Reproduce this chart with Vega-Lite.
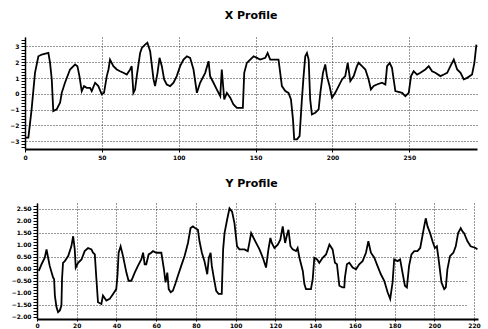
{
  "$schema": "https://vega.github.io/schema/vega-lite/v6.json",
  "background": "white",
  "padding": {"left": 0, "top": 10, "right": 8, "bottom": 0},
  "spacing": 17,
  "config": {
    "view": {"stroke": null},
    "title": {"font": "DejaVu Sans", "fontWeight": "bold", "fontSize": 11, "color": "black", "anchor": "middle", "offset": 16},
    "axis": {"labelFont": "DejaVu Sans", "labelFontSize": 6, "labelFontWeight": "bold", "labelColor": "black", "domainColor": "black", "tickColor": "black", "title": null, "labelPadding": 2, "labelOverlap": false, "labelBound": false}
  },
  "datasets": {
    "xp": [
      {"d":0,"v":-2.78},{"d":2.2,"v":-2.78},{"d":4.3,"v":-0.99},{"d":6.5,"v":1.33},{"d":8.7,"v":2.38},{"d":10.9,"v":2.49},{"d":15.2,"v":2.59},{"d":16.3,"v":1.96},{"d":17.4,"v":0.91},{"d":18.4,"v":-1.1},{"d":20.6,"v":-0.99},{"d":22.8,"v":-0.57},{"d":23.9,"v":0.06},{"d":26.0,"v":0.7},{"d":29.3,"v":1.54},{"d":32.6,"v":1.86},{"d":34.1,"v":1.75},{"d":35.4,"v":1.12},{"d":36.9,"v":0.17},{"d":38.4,"v":0.49},{"d":40.1,"v":0.38},{"d":42.3,"v":0.38},{"d":43.4,"v":0.17},{"d":45.6,"v":0.7},{"d":47.7,"v":0.49},{"d":49.9,"v":-0.04},{"d":51.4,"v":0.06},{"d":53.2,"v":1.12},{"d":54.3,"v":1.54},{"d":55.3,"v":2.17},{"d":57.5,"v":1.75},{"d":59.7,"v":1.54},{"d":61.8,"v":1.43},{"d":64.0,"v":1.33},{"d":66.2,"v":1.22},{"d":68.4,"v":1.54},{"d":69.4,"v":1.75},{"d":70.5,"v":0.06},{"d":71.6,"v":0.27},{"d":72.7,"v":1.12},{"d":74.9,"v":2.59},{"d":76.0,"v":2.91},{"d":78.1,"v":3.12},{"d":79.6,"v":3.23},{"d":81.4,"v":2.7},{"d":83.6,"v":0.91},{"d":84.6,"v":0.49},{"d":86.2,"v":1.33},{"d":87.5,"v":2.28},{"d":89.0,"v":1.75},{"d":90.5,"v":0.91},{"d":92.2,"v":0.59},{"d":94.4,"v":0.49},{"d":96.6,"v":0.7},{"d":98.7,"v":1.12},{"d":100.9,"v":1.75},{"d":103.1,"v":2.17},{"d":105.3,"v":2.38},{"d":107.4,"v":2.28},{"d":109.6,"v":1.54},{"d":111.8,"v":0.06},{"d":113.9,"v":0.7},{"d":117.2,"v":1.33},{"d":119.4,"v":2.07},{"d":120.4,"v":1.12},{"d":122.6,"v":0.7},{"d":124.8,"v":0.27},{"d":127.0,"v":-0.15},{"d":128.0,"v":1.54},{"d":129.6,"v":-0.36},{"d":131.3,"v":0.06},{"d":133.5,"v":-0.25},{"d":135.6,"v":-0.68},{"d":137.8,"v":-0.89},{"d":141.7,"v":-0.89},{"d":142.6,"v":1.33},{"d":144.3,"v":1.96},{"d":146.5,"v":2.17},{"d":148.7,"v":2.38},{"d":150.8,"v":2.28},{"d":153.0,"v":2.17},{"d":156.3,"v":2.28},{"d":157.8,"v":2.59},{"d":159.5,"v":2.17},{"d":164.9,"v":2.17},{"d":167.1,"v":0.49},{"d":169.3,"v":0.17},{"d":171.4,"v":0.06},{"d":173.0,"v":-0.36},{"d":174.3,"v":-1.62},{"d":175.1,"v":-2.89},{"d":176.9,"v":-2.89},{"d":178.6,"v":-2.68},{"d":180.1,"v":-0.36},{"d":181.2,"v":1.12},{"d":182.3,"v":2.38},{"d":183.4,"v":2.59},{"d":184.5,"v":2.17},{"d":185.5,"v":-0.36},{"d":186.6,"v":-1.31},{"d":188.8,"v":-1.2},{"d":191.0,"v":-0.99},{"d":192.1,"v":0.06},{"d":193.8,"v":1.33},{"d":195.3,"v":1.86},{"d":196.4,"v":1.12},{"d":198.1,"v":0.49},{"d":199.7,"v":-0.25},{"d":201.8,"v":0.06},{"d":204.0,"v":0.49},{"d":206.2,"v":0.91},{"d":208.3,"v":1.12},{"d":209.9,"v":1.96},{"d":211.6,"v":0.8},{"d":213.8,"v":1.12},{"d":215.9,"v":1.75},{"d":217.0,"v":1.96},{"d":219.2,"v":1.75},{"d":221.4,"v":1.54},{"d":223.5,"v":0.91},{"d":225.0,"v":0.27},{"d":226.8,"v":0.49},{"d":228.9,"v":0.59},{"d":232.2,"v":0.7},{"d":234.4,"v":0.59},{"d":235.5,"v":1.75},{"d":237.2,"v":1.96},{"d":238.7,"v":1.65},{"d":240.9,"v":0.17},{"d":245.3,"v":0.06},{"d":247.4,"v":-0.15},{"d":249.6,"v":0.06},{"d":251.1,"v":1.12},{"d":252.8,"v":1.43},{"d":255.0,"v":1.22},{"d":257.2,"v":1.33},{"d":260.4,"v":1.54},{"d":262.6,"v":1.75},{"d":264.8,"v":1.43},{"d":266.9,"v":1.33},{"d":270.2,"v":1.12},{"d":272.4,"v":1.22},{"d":274.6,"v":1.33},{"d":276.7,"v":1.75},{"d":278.9,"v":2.17},{"d":281.1,"v":1.54},{"d":283.3,"v":1.33},{"d":285.4,"v":0.91},{"d":287.6,"v":1.01},{"d":290.8,"v":1.22},{"d":292.3,"v":1.96},{"d":293.6,"v":3.12}
    ],
    "yp": [
      {"d":0.9,"v":-0.09},{"d":2.3,"v":0.19},{"d":3.9,"v":0.46},{"d":4.8,"v":0.81},{"d":5.6,"v":0.46},{"d":6.4,"v":0.12},{"d":8.1,"v":-0.37},{"d":8.6,"v":-0.43},{"d":9.0,"v":-1.12},{"d":9.8,"v":-1.6},{"d":10.6,"v":-1.81},{"d":11.5,"v":-1.74},{"d":12.3,"v":-1.54},{"d":12.6,"v":-0.43},{"d":13.1,"v":0.25},{"d":14.0,"v":0.32},{"d":15.7,"v":0.53},{"d":17.3,"v":0.94},{"d":18.2,"v":1.36},{"d":19.0,"v":0.81},{"d":19.5,"v":0.05},{"d":20.7,"v":0.25},{"d":22.4,"v":0.39},{"d":24.0,"v":0.74},{"d":25.7,"v":0.87},{"d":27.4,"v":0.81},{"d":28.2,"v":0.67},{"d":29.1,"v":0.6},{"d":29.9,"v":-0.43},{"d":30.7,"v":-1.4},{"d":32.4,"v":-1.47},{"d":33.2,"v":-1.12},{"d":34.9,"v":-1.33},{"d":36.6,"v":-1.26},{"d":38.3,"v":-1.05},{"d":39.9,"v":-0.85},{"d":40.5,"v":-0.3},{"d":41.1,"v":0.67},{"d":42.1,"v":0.94},{"d":43.3,"v":0.53},{"d":45.0,"v":-0.16},{"d":46.1,"v":-0.5},{"d":47.5,"v":-0.5},{"d":49.2,"v":-0.16},{"d":50.8,"v":0.12},{"d":52.5,"v":0.39},{"d":53.4,"v":0.67},{"d":54.2,"v":0.19},{"d":55.0,"v":0.19},{"d":56.2,"v":0.6},{"d":57.5,"v":0.67},{"d":58.4,"v":0.74},{"d":60.1,"v":0.67},{"d":62.6,"v":0.67},{"d":63.9,"v":-0.02},{"d":64.7,"v":-0.57},{"d":65.6,"v":-0.16},{"d":66.3,"v":-0.85},{"d":67.3,"v":-0.98},{"d":68.4,"v":-0.92},{"d":69.6,"v":-0.64},{"d":70.9,"v":-0.3},{"d":72.6,"v":0.12},{"d":74.3,"v":0.53},{"d":76.0,"v":1.08},{"d":77.3,"v":1.7},{"d":78.5,"v":1.77},{"d":79.6,"v":1.7},{"d":81.0,"v":1.63},{"d":81.8,"v":1.15},{"d":83.0,"v":0.67},{"d":84.3,"v":0.32},{"d":85.7,"v":-0.23},{"d":86.5,"v":0.46},{"d":87.4,"v":0.67},{"d":88.0,"v":0.12},{"d":89.0,"v":-0.37},{"d":90.2,"v":-0.92},{"d":91.4,"v":-1.05},{"d":93.0,"v":-1.05},{"d":93.7,"v":0.81},{"d":94.4,"v":1.49},{"d":95.7,"v":2.05},{"d":96.9,"v":2.53},{"d":98.2,"v":2.39},{"d":99.4,"v":1.91},{"d":100.7,"v":0.94},{"d":101.9,"v":0.81},{"d":104.4,"v":0.81},{"d":106.1,"v":0.74},{"d":106.9,"v":1.08},{"d":107.8,"v":1.49},{"d":108.6,"v":1.36},{"d":110.3,"v":1.08},{"d":112.0,"v":0.81},{"d":113.7,"v":0.46},{"d":115.3,"v":0.05},{"d":116.5,"v":0.81},{"d":117.5,"v":1.29},{"d":118.2,"v":1.08},{"d":119.5,"v":0.87},{"d":121.2,"v":1.01},{"d":122.5,"v":1.22},{"d":123.7,"v":1.77},{"d":124.9,"v":1.08},{"d":125.9,"v":1.43},{"d":126.6,"v":1.63},{"d":127.6,"v":0.94},{"d":128.7,"v":0.81},{"d":130.4,"v":0.74},{"d":131.2,"v":0.87},{"d":132.1,"v":0.46},{"d":133.8,"v":-0.09},{"d":134.6,"v":-0.64},{"d":135.4,"v":-0.85},{"d":137.9,"v":-0.85},{"d":138.8,"v":-0.43},{"d":139.6,"v":0.46},{"d":141.0,"v":0.39},{"d":142.1,"v":0.25},{"d":143.8,"v":0.46},{"d":145.5,"v":0.6},{"d":147.2,"v":1.01},{"d":148.8,"v":0.81},{"d":150.0,"v":0.25},{"d":151.0,"v":0.19},{"d":152.2,"v":-0.71},{"d":153.8,"v":-0.78},{"d":154.7,"v":-0.78},{"d":155.0,"v":-0.37},{"d":156.0,"v":0.19},{"d":157.2,"v":0.25},{"d":158.9,"v":0.05},{"d":160.6,"v":-0.02},{"d":162.2,"v":0.19},{"d":163.9,"v":0.32},{"d":165.6,"v":0.67},{"d":166.8,"v":1.15},{"d":168.1,"v":0.67},{"d":169.8,"v":0.46},{"d":171.4,"v":0.12},{"d":173.1,"v":-0.23},{"d":174.8,"v":-0.5},{"d":176.5,"v":-0.98},{"d":177.8,"v":-1.26},{"d":179.0,"v":-0.57},{"d":179.8,"v":0.39},{"d":181.5,"v":0.32},{"d":182.8,"v":0.39},{"d":184.0,"v":-0.16},{"d":185.2,"v":-0.71},{"d":186.2,"v":-0.78},{"d":187.3,"v":0.12},{"d":188.5,"v":0.6},{"d":189.9,"v":0.74},{"d":191.5,"v":0.74},{"d":192.9,"v":0.87},{"d":194.0,"v":1.36},{"d":194.9,"v":1.77},{"d":195.7,"v":2.11},{"d":196.6,"v":1.77},{"d":197.9,"v":1.49},{"d":199.1,"v":1.15},{"d":200.3,"v":0.87},{"d":201.3,"v":0.94},{"d":202.4,"v":0.25},{"d":203.6,"v":-0.57},{"d":205.0,"v":-0.85},{"d":205.8,"v":-0.78},{"d":206.6,"v":-0.02},{"d":207.9,"v":0.53},{"d":209.6,"v":0.67},{"d":210.8,"v":0.94},{"d":212.0,"v":1.49},{"d":213.3,"v":1.7},{"d":214.2,"v":1.56},{"d":215.0,"v":1.49},{"d":216.7,"v":1.15},{"d":218.3,"v":0.94},{"d":220.8,"v":0.87},{"d":221.7,"v":0.81}
    ]
  },
  "vconcat": [
    {
      "title": "X Profile",
      "width": 452,
      "height": 112,
      "resolve": {"axis": {"y": "independent"}},
      "layer": [
        {
          "data": {"name": "xp"},
          "mark": {"type": "line", "color": "black", "strokeWidth": 1.8, "interpolate": "linear"},
          "encoding": {
            "x": {"field": "d", "type": "quantitative", "scale": {"domain": [0, 294], "nice": false, "zero": false},
              "axis": {"values": [0, 50, 100, 150, 200, 250], "grid": true, "gridDash": [1, 2], "gridColor": "#333", "gridWidth": 1, "domainWidth": 2, "tickSize": 3, "labelFlush": false, "labelPadding": 2}},
            "y": {"field": "v", "type": "quantitative", "scale": {"domain": [-3.5, 3.6], "nice": false, "zero": false},
              "axis": {"orient": "left", "values": [-3.4,-3.2,-3,-2.8,-2.6,-2.4,-2.2,-2,-1.8,-1.6,-1.4,-1.2,-1,-0.8,-0.6,-0.4,-0.2,0,0.2,0.4,0.6,0.8,1,1.2,1.4,1.6,1.8,2,2.2,2.4,2.6,2.8,3,3.2,3.4],
                "labelExpr": "abs(datum.value - round(datum.value)) < 0.01 ? format(round(datum.value), 'd') : ''",
                "grid": false, "tickSize": 4, "domainWidth": 1.5, "minExtent": 25, "maxExtent": 25}}
          }
        },
        {
          "mark": {"type": "rule", "color": "black", "strokeWidth": 2},
          "encoding": {"y": {"datum": 3.6, "type": "quantitative",
            "axis": {"orient": "right", "values": [-3, -2, -1, 0, 1, 2, 3], "grid": true, "gridDash": [1, 2], "gridColor": "#333", "labels": false, "ticks": false, "domain": false, "minExtent": 0, "maxExtent": 0}}}
        }
      ]
    },
    {
      "title": {"text": "Y Profile", "offset": 14},
      "width": 453,
      "height": 116,
      "resolve": {"axis": {"y": "independent"}},
      "layer": [
        {
          "data": {"name": "yp"},
          "mark": {"type": "line", "color": "black", "strokeWidth": 1.8, "interpolate": "linear"},
          "encoding": {
            "x": {"field": "d", "type": "quantitative", "scale": {"domain": [0, 222], "nice": false, "zero": false, "range": [12, 453]},
              "axis": {"values": [0, 20, 40, 60, 80, 100, 120, 140, 160, 180, 200, 220], "grid": true, "gridDash": [1, 2], "gridColor": "#333", "domainWidth": 2, "tickSize": 2, "labelFlush": false, "labelPadding": 1}},
            "y": {"field": "v", "type": "quantitative", "scale": {"domain": [-2.1, 2.75], "nice": false, "zero": false},
              "axis": {"orient": "left", "offset": -12, "values": [-2,-1.875,-1.75,-1.625,-1.5,-1.375,-1.25,-1.125,-1,-0.875,-0.75,-0.625,-0.5,-0.375,-0.25,-0.125,0,0.125,0.25,0.375,0.5,0.625,0.75,0.875,1,1.125,1.25,1.375,1.5,1.625,1.75,1.875,2,2.125,2.25,2.375,2.5,2.625],
                "labelExpr": "abs(datum.value * 2 - round(datum.value * 2)) < 0.01 ? format(datum.value, '.2f') : ''",
                "grid": false, "tickSize": 4, "domainWidth": 1.5, "minExtent": 25, "maxExtent": 25}}
          }
        },
        {
          "mark": {"type": "rule", "color": "black", "strokeWidth": 2},
          "encoding": {
            "x": {"datum": 0, "type": "quantitative"},
            "x2": {"datum": 222},
            "y": {"datum": 2.75, "type": "quantitative",
            "axis": {"orient": "right", "values": [-1.5, -0.5, 0.5, 1.5, 2.5], "grid": true, "gridDash": [1, 2], "gridColor": "#333", "labels": false, "ticks": false, "domain": false, "minExtent": 0, "maxExtent": 0}}}
        }
      ]
    }
  ]
}
